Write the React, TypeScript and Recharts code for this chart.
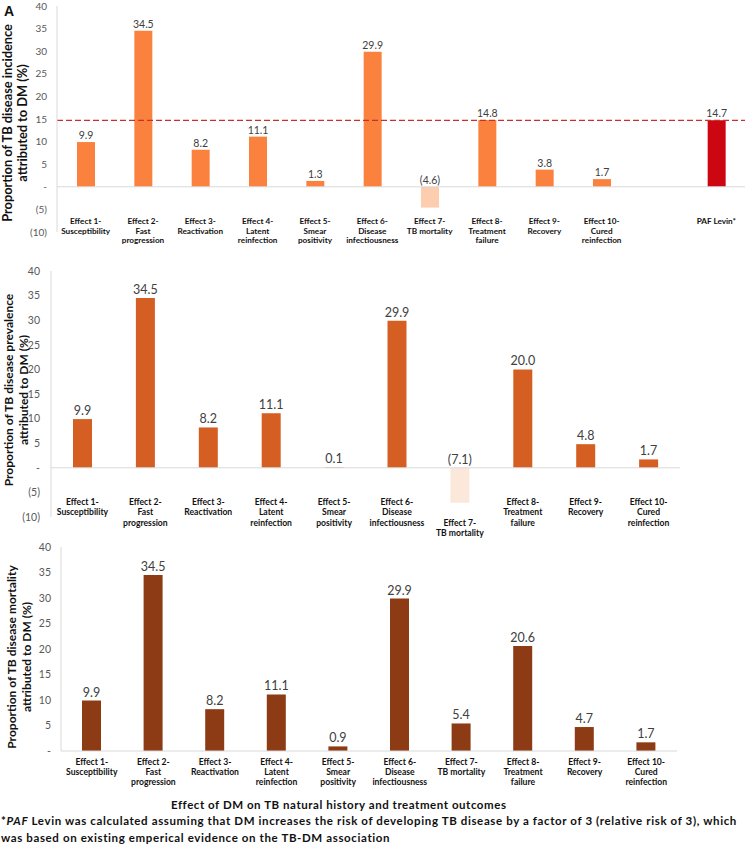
import React from "react";
import { Bar, BarChart, Cell, LabelList, ReferenceLine, XAxis, YAxis } from "recharts";

const effectLines: string[][] = [
    ["Effect 1-", "Susceptibility"],
    ["Effect 2-", "Fast", "progression"],
    ["Effect 3-", "Reactivation"],
    ["Effect 4-", "Latent", "reinfection"],
    ["Effect 5-", "Smear", "positivity"],
    ["Effect 6-", "Disease", "infectiousness"],
    ["Effect 7-", "TB mortality"],
    ["Effect 8-", "Treatment", "failure"],
    ["Effect 9-", "Recovery"],
    ["Effect 10-", "Cured", "reinfection"],
];

// panel A adds a blank slot and the PAF Levin bar
const incidenceLines: string[][] = [...effectLines, [], ["PAF Levin*"]];
// in the prevalence panel the "Effect 7" label sits two lines lower
const prevalenceLines: string[][] = effectLines.map((l, i) => (i === 6 ? ["", "", ...l] : l));

const incidence = [9.9, 34.5, 8.2, 11.1, 1.3, 29.9, -4.6, 14.8, 3.8, 1.7, null, 14.7];
const prevalence = [9.9, 34.5, 8.2, 11.1, 0.1, 29.9, -7.1, 20.0, 4.8, 1.7];
const mortality = [9.9, 34.5, 8.2, 11.1, 0.9, 29.9, 5.4, 20.6, 4.7, 1.7];
const pafLevin = 14.7;

const signedTicks = [-10, -5, 0, 5, 10, 15, 20, 25, 30, 35, 40];
const positiveTicks = [0, 5, 10, 15, 20, 25, 30, 35, 40];

const FONT = "Lato, 'Open Sans', sans-serif";

const toRows = (lines: string[][], values: (number | null)[]) =>
    lines.map((l, i) => ({ name: l.join(" ") || "blank", value: values[i] }));

const tickFormat = (v: number) => (v === 0 ? "-" : v < 0 ? `(${-v})` : `${v}`);

function makeLabel(fontSize: number, gap: number) {
    return (props: any) => {
        const { x, y, width, height, value } = props;
        if (value == null) return null;
        const top = Math.min(Number(y), Number(y) + Number(height));
        const v = Number(value);
        const text = v < 0 ? `(${Math.abs(v).toFixed(1)})` : v.toFixed(1);
        return (
            <text
                x={Number(x) + Number(width) / 2}
                y={top - gap}
                textAnchor="middle"
                fontSize={fontSize}
                fontFamily={FONT}
                fill="#404040"
            >
                {text}
            </text>
        );
    };
}

function makeTick(lines: string[][], fontSize: number, lineHeight: number, dy: number) {
    return (props: any) => {
        const { x, y, payload } = props;
        const idx = props.index ?? payload?.index ?? 0;
        const rows = lines[idx] ?? [];
        return (
            <text textAnchor="middle" fontSize={fontSize} fontWeight={700} fontFamily={FONT} fill="#111">
                {rows.map((r, i) => (
                    <tspan key={i} x={x} y={Number(y) + dy + i * lineHeight}>
                        {r}
                    </tspan>
                ))}
            </text>
        );
    };
}

function YTitle(props: { lines: string[]; cx: number; cy: number; fontSize: number }) {
    const { lines, cx, cy, fontSize } = props;
    return (
        <div
            style={{
                position: "absolute",
                left: cx,
                top: cy,
                transform: "translate(-50%, -50%) rotate(-90deg)",
                whiteSpace: "nowrap",
                textAlign: "center",
                fontFamily: FONT,
                fontWeight: 700,
                fontSize,
                lineHeight: "15px",
                color: "#111",
            }}
        >
            {lines.map((l) => (
                <div key={l}>{l}</div>
            ))}
        </div>
    );
}

const yTick = (size: number) => ({ fontSize: size, fontFamily: FONT, fill: "#595959" });

export default function App() {
    const incidenceData = toRows(incidenceLines, incidence);
    const prevalenceData = toRows(prevalenceLines, prevalence);
    const mortalityData = toRows(effectLines, mortality);

    return (
        <div style={{ position: "absolute", left: 0, top: 0, width: 747, height: 846, background: "#fff" }}>
            {/* Panel A: incidence */}
            <div style={{ position: "absolute", left: 0, top: 0 }}>
                <BarChart width={747} height={262} data={incidenceData} margin={{ top: 6, right: 2, left: 0, bottom: 0 }}>
                    <XAxis
                        dataKey="name"
                        axisLine={false}
                        tickLine={false}
                        tickSize={0}
                        tickMargin={0}
                        height={30}
                        interval={0}
                        tick={makeTick(incidenceLines, 8.2, 9.7, -8)}
                    />
                    <YAxis
                        width={57}
                        domain={[-10, 40]}
                        ticks={signedTicks}
                        interval={0}
                        tickFormatter={tickFormat}
                        tickLine={false}
                        tickSize={0}
                        tickMargin={10}
                        axisLine={{ stroke: "#d9d9d9" }}
                        tick={yTick(10)}
                    />
                    <ReferenceLine y={0} stroke="#d9d9d9" />
                    <ReferenceLine y={pafLevin} stroke="#c8302a" strokeDasharray="6 3" strokeWidth={1.2} />
                    <Bar dataKey="value" barSize={18} isAnimationActive={false}>
                        {incidenceData.map((d, i) => (
                            <Cell
                                key={i}
                                fill={d.name === "PAF Levin*" ? "#cc0712" : (d.value ?? 0) < 0 ? "#fdcdb0" : "#fa823e"}
                            />
                        ))}
                        <LabelList dataKey="value" content={makeLabel(10.5, 3)} />
                    </Bar>
                </BarChart>
            </div>

            {/* Panel: prevalence */}
            <div style={{ position: "absolute", left: 0, top: 262 }}>
                <BarChart width={747} height={295} data={prevalenceData} margin={{ top: 9, right: 67, left: 0, bottom: 0 }}>
                    <XAxis
                        dataKey="name"
                        axisLine={false}
                        tickLine={false}
                        tickSize={0}
                        tickMargin={0}
                        height={40}
                        interval={0}
                        tick={makeTick(prevalenceLines, 8.6, 10.3, -12)}
                    />
                    <YAxis
                        width={51}
                        domain={[-10, 40]}
                        ticks={signedTicks}
                        interval={0}
                        tickFormatter={tickFormat}
                        tickLine={false}
                        tickSize={0}
                        tickMargin={11}
                        axisLine={{ stroke: "#d9d9d9" }}
                        tick={yTick(10.5)}
                    />
                    <ReferenceLine y={0} stroke="#d9d9d9" />
                    <Bar dataKey="value" barSize={19} isAnimationActive={false}>
                        {prevalenceData.map((d, i) => (
                            <Cell key={i} fill={(d.value ?? 0) < 0 ? "#fce8db" : "#d55e22"} />
                        ))}
                        <LabelList dataKey="value" content={makeLabel(12.5, 4)} />
                    </Bar>
                </BarChart>
            </div>

            {/* Panel: mortality */}
            <div style={{ position: "absolute", left: 0, top: 540 }}>
                <BarChart width={747} height={251} data={mortalityData} margin={{ top: 7, right: 70, left: 0, bottom: 0 }}>
                    <XAxis
                        dataKey="name"
                        axisLine={false}
                        tickLine={false}
                        tickSize={0}
                        tickMargin={0}
                        height={40}
                        interval={0}
                        tick={makeTick(effectLines, 8.6, 10, 14)}
                    />
                    <YAxis
                        width={61}
                        domain={[0, 40]}
                        ticks={positiveTicks}
                        interval={0}
                        tickFormatter={tickFormat}
                        tickLine={false}
                        tickSize={0}
                        tickMargin={10}
                        axisLine={{ stroke: "#d9d9d9" }}
                        tick={yTick(10.5)}
                    />
                    <ReferenceLine y={0} stroke="#d9d9d9" />
                    <Bar dataKey="value" fill="#8c3b15" barSize={19} isAnimationActive={false}>
                        <LabelList dataKey="value" content={makeLabel(12.5, 4)} />
                    </Bar>
                </BarChart>
            </div>

            <div
                style={{
                    position: "absolute",
                    left: 4,
                    top: 3,
                    fontFamily: "'Liberation Sans', Arial, sans-serif",
                    fontWeight: 700,
                    fontSize: 14,
                    color: "#111",
                }}
            >
                A
            </div>

            <YTitle lines={["Proportion of TB disease incidence", "attributed to DM (%)"]} cx={15} cy={123} fontSize={12.8} />
            <YTitle lines={["Proportion of TB disease prevalence", "attributed to DM (%)"]} cx={16} cy={390} fontSize={12} />
            <YTitle lines={["Proportion of TB disease mortality", "attributed to DM (%)"]} cx={19} cy={657} fontSize={12} />

            <div
                style={{
                    position: "absolute",
                    left: 171,
                    top: 797,
                    whiteSpace: "nowrap",
                    fontFamily: FONT,
                    fontWeight: 700,
                    fontSize: 11.5,
                    letterSpacing: 0.55,
                    lineHeight: "16px",
                    color: "#111",
                }}
            >
                Effect of DM on TB natural history and treatment outcomes
            </div>

            <div
                style={{
                    position: "absolute",
                    left: 1,
                    top: 812,
                    whiteSpace: "nowrap",
                    fontFamily: FONT,
                    fontWeight: 700,
                    fontSize: 11.5,
                    letterSpacing: 0.62,
                    lineHeight: "17px",
                    color: "#111",
                }}
            >
                <div>
                    *<i>PAF</i> Levin was calculated assuming that DM increases the risk of developing TB disease by a factor of 3 (relative risk of 3), which
                </div>
                <div>was based on existing emperical evidence on the TB-DM association</div>
            </div>
        </div>
    );
}
